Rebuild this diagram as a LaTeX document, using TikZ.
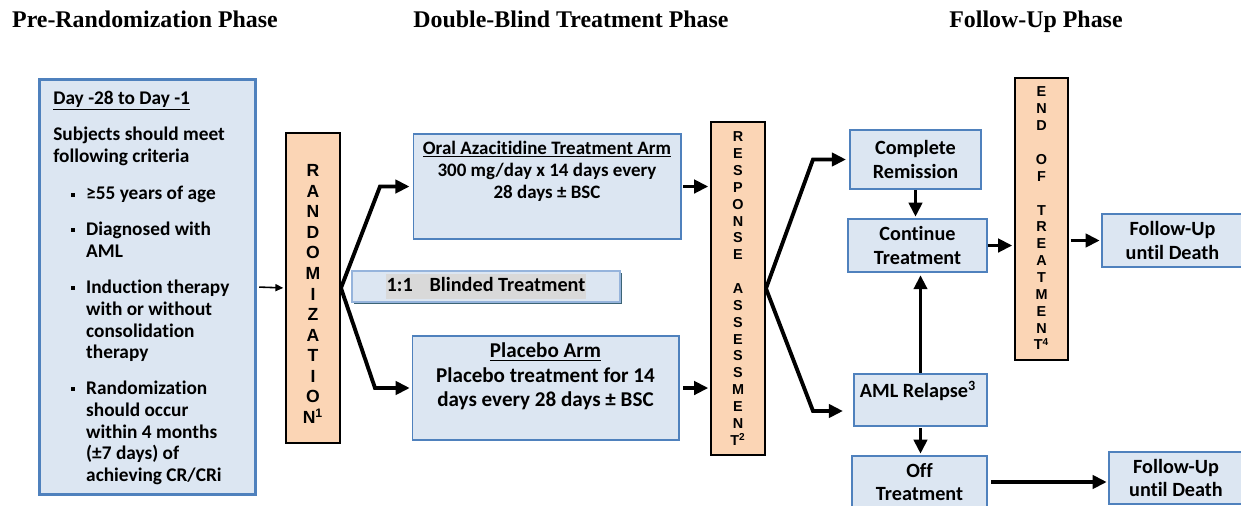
\documentclass[tikz,border=0pt]{standalone}
\usepackage{fontspec}
\setmainfont{Carlito}[Ligatures=NoCommon]
\newfontfamily\phasefont{Liberation Serif}
\newfontfamily\letterfont{Liberation Sans}
\usetikzlibrary{arrows.meta, positioning, calc, shadows}
\definecolor{BoxBlue}{RGB}{220,230,242}
\definecolor{BoxEdge}{RGB}{79,129,189}
\definecolor{LightEdge}{RGB}{150,180,220}
\definecolor{Peach}{RGB}{251,213,181}
\definecolor{BlindShadow}{RGB}{60,100,118}
\definecolor{HiGray}{RGB}{217,217,217}
\newcommand{\critbullet}{\hspace*{10.1pt}\rule[1.9pt]{2.3pt}{2.3pt}\hspace*{6.3pt}}
\newcommand{\critindent}{\hspace*{18.7pt}}

\begin{document}
\begin{tikzpicture}[x=0.02cm, y=-0.02cm,
      phase/.style={font=\phasefont\bfseries\fontsize{13.6}{16}\selectfont, anchor=base},
      bluebox/.style={draw=BoxEdge, fill=BoxBlue, line width=0.6pt, inner sep=0pt,
                      font=\bfseries\fontsize{11.5}{13.3}\selectfont, align=center},
      letterbox/.style={draw=black, fill=Peach, line width=1.1pt, inner sep=0pt},
      vtxt/.style={font=\letterfont\bfseries\fontsize{8.2}{9.6}\selectfont, align=center, inner sep=0pt},
      arr/.style={-{Triangle[length=8pt,width=7.5pt]}, line width=2.2pt},
      thinarr/.style={-{Triangle[length=4.5pt,width=4pt]}, line width=0.9pt}
    ]
    \clip (0,0) rectangle (1241,505);

    % phase headings
    \node[phase] (prehd)  at (145,27)  {Pre-Randomization Phase};
    \node[phase] (dblhd)  at (571,27)  {Double-Blind Treatment Phase};
    \node[phase] (fuphd)  at (1036,27) {Follow-Up Phase};

    % eligibility box
    \node[bluebox, draw=BoxEdge, line width=1.7pt,
          minimum width=4.34cm, minimum height=8.32cm] (crit) at (147.5,287) {};
    \node[anchor=north west, inner sep=0pt, align=left,
          font=\bfseries\fontsize{11}{12.5}\selectfont] (crittxt) at (53,90.5)
      {\underline{Day -28 to Day -1}\\[8pt]
       Subjects should meet\\
       following criteria\\[9pt]
       \critbullet ≥55 years of age\\[7.5pt]
       \critbullet Diagnosed with\\
       \critindent AML\\[8pt]
       \critbullet Induction therapy\\
       \critindent with or without\\
       \critindent consolidation\\
       \critindent therapy\\[7.5pt]
       \critbullet Randomization\\
       \critindent should occur\\
       \critindent within 4 months\\
       \critindent (±7 days) of\\
       \critindent achieving CR/CRi};

    % randomization
    \node[letterbox, minimum width=1.08cm, minimum height=6.2cm] (rand) at (313,288) {};
    \node[vtxt, font=\letterfont\bfseries\fontsize{10}{11.7}\selectfont] (randtxt) at (313,294)
      {R\\A\\N\\D\\O\\M\\I\\Z\\A\\T\\I\\O\\N\textsuperscript{1}};

    % treatment arms
    \node[bluebox, minimum width=5.36cm, minimum height=2.1cm] (oral) at (547,186.5) {};
    \node[align=center, inner sep=0pt, font=\bfseries\fontsize{10.8}{12.5}\selectfont]
      (oraltxt) at (547,171)
      {\underline{Oral Azacitidine Treatment Arm}\\300 mg/day x 14 days every\\28 days ± BSC};
    \node[bluebox, draw=LightEdge, line width=1pt, minimum width=5.36cm, minimum height=0.62cm,
          drop shadow={shadow xshift=1.4pt, shadow yshift=-1.4pt, fill=BlindShadow, opacity=1}]
      (blind) at (486,286.5)
      {{\fboxsep=0.6pt\colorbox{HiGray}{\strut 1:1\hspace*{9.6pt}Blinded Treatment}}};
    \node[bluebox, minimum width=5.34cm, minimum height=2.08cm] (placebo) at (545.5,388) {};
    \node[align=center, inner sep=0pt, font=\bfseries\fontsize{12}{13.9}\selectfont]
      (placebotxt) at (545.5,376.5)
      {\underline{Placebo Arm}\\Placebo treatment for 14\\days every 28 days ± BSC};

    % response assessment
    \node[letterbox, minimum width=1.08cm, minimum height=6.66cm] (resp) at (738,288.5) {};
    \node[vtxt] (resptxt) at (738,288.5)
      {R\\E\\S\\P\\O\\N\\S\\E\\~\\A\\S\\S\\E\\S\\S\\M\\E\\N\\T\textsuperscript{2}};

    % outcomes
    \node[bluebox, minimum width=2.62cm, minimum height=1.18cm] (cr)   at (915.5,159.5) {Complete\\Remission};
    \node[bluebox, minimum width=2.78cm, minimum height=1.06cm] (cont) at (917.5,245.5) {Continue\\Treatment};
    \node[bluebox, minimum width=2.66cm, minimum height=1.04cm] (aml)  at (920.5,400) {};
    \node[inner sep=0pt, font=\bfseries\fontsize{11.5}{13.3}\selectfont] (amltxt) at (918,391)
      {AML Relapse\textsuperscript{3}};
    \node[bluebox, minimum width=2.7cm, minimum height=1.04cm] (off) at (919.5,482) {Off\\Treatment};

    % end of treatment
    \node[letterbox, minimum width=1.06cm, minimum height=5.64cm] (eot) at (1041.5,219) {};
    \node[vtxt] (eottxt) at (1041.5,218.5)
      {E\\N\\D\\~\\O\\F\\~\\T\\R\\E\\A\\T\\M\\E\\N\\T\textsuperscript{4}};

    % follow-up
    \node[bluebox, minimum width=2.82cm, minimum height=1.06cm] (fu1) at (1172.5,240.5) {Follow-Up\\until Death};
    \node[bluebox, minimum width=2.68cm, minimum height=1.04cm] (fu2) at (1176,478) {Follow-Up\\until Death};

    % connectors
    \coordinate (rup) at (380,186.5);
    \coordinate (rlo) at (375,388);
    \coordinate (aup) at (813,159.5);
    \coordinate (alo) at (813,411);
    \draw[thinarr, shorten <=1pt, shorten >=1pt] (crit.east) -- (rand.west);
    \draw[arr, shorten >=1.7pt] (rand.east) -- (rup) -- (oral.west);
    \draw[arr, shorten >=1pt] (rand.east) -- (rlo) -- (placebo.west);
    \draw[arr, shorten <=1pt, shorten >=1pt] (oral.east) -- (oral.east -| resp.west);
    \draw[arr, shorten <=2pt, shorten >=1pt] (placebo.east) -- (placebo.east -| resp.west);
    \draw[arr, shorten >=2pt] (resp.east) -- (aup) -- (cr.west);
    \draw[arr, shorten >=6pt] (resp.east) -- (alo) -- (alo -| aml.west);
    \draw[arr, shorten <=0.5pt, shorten >=1pt] (cr.south) -- (cr.south |- cont.north);
    \draw[arr, shorten <=0.5pt, shorten >=1.5pt] (aml.north) -- (aml.north |- cont.south);
    \draw[arr, shorten <=1pt, shorten >=1pt] (aml.south) -- (aml.south |- off.north);
    \draw[arr, shorten >=1pt] (cont.east) -- (cont.east -| eot.west);
    \draw[arr, shorten <=1pt, shorten >=1pt] (eot.east |- fu1.west) -- (fu1.west);
    \draw[arr, shorten <=2pt, shorten >=1pt] (off.east) -- (off.east -| fu2.west);
  \end{tikzpicture}
\end{document}
